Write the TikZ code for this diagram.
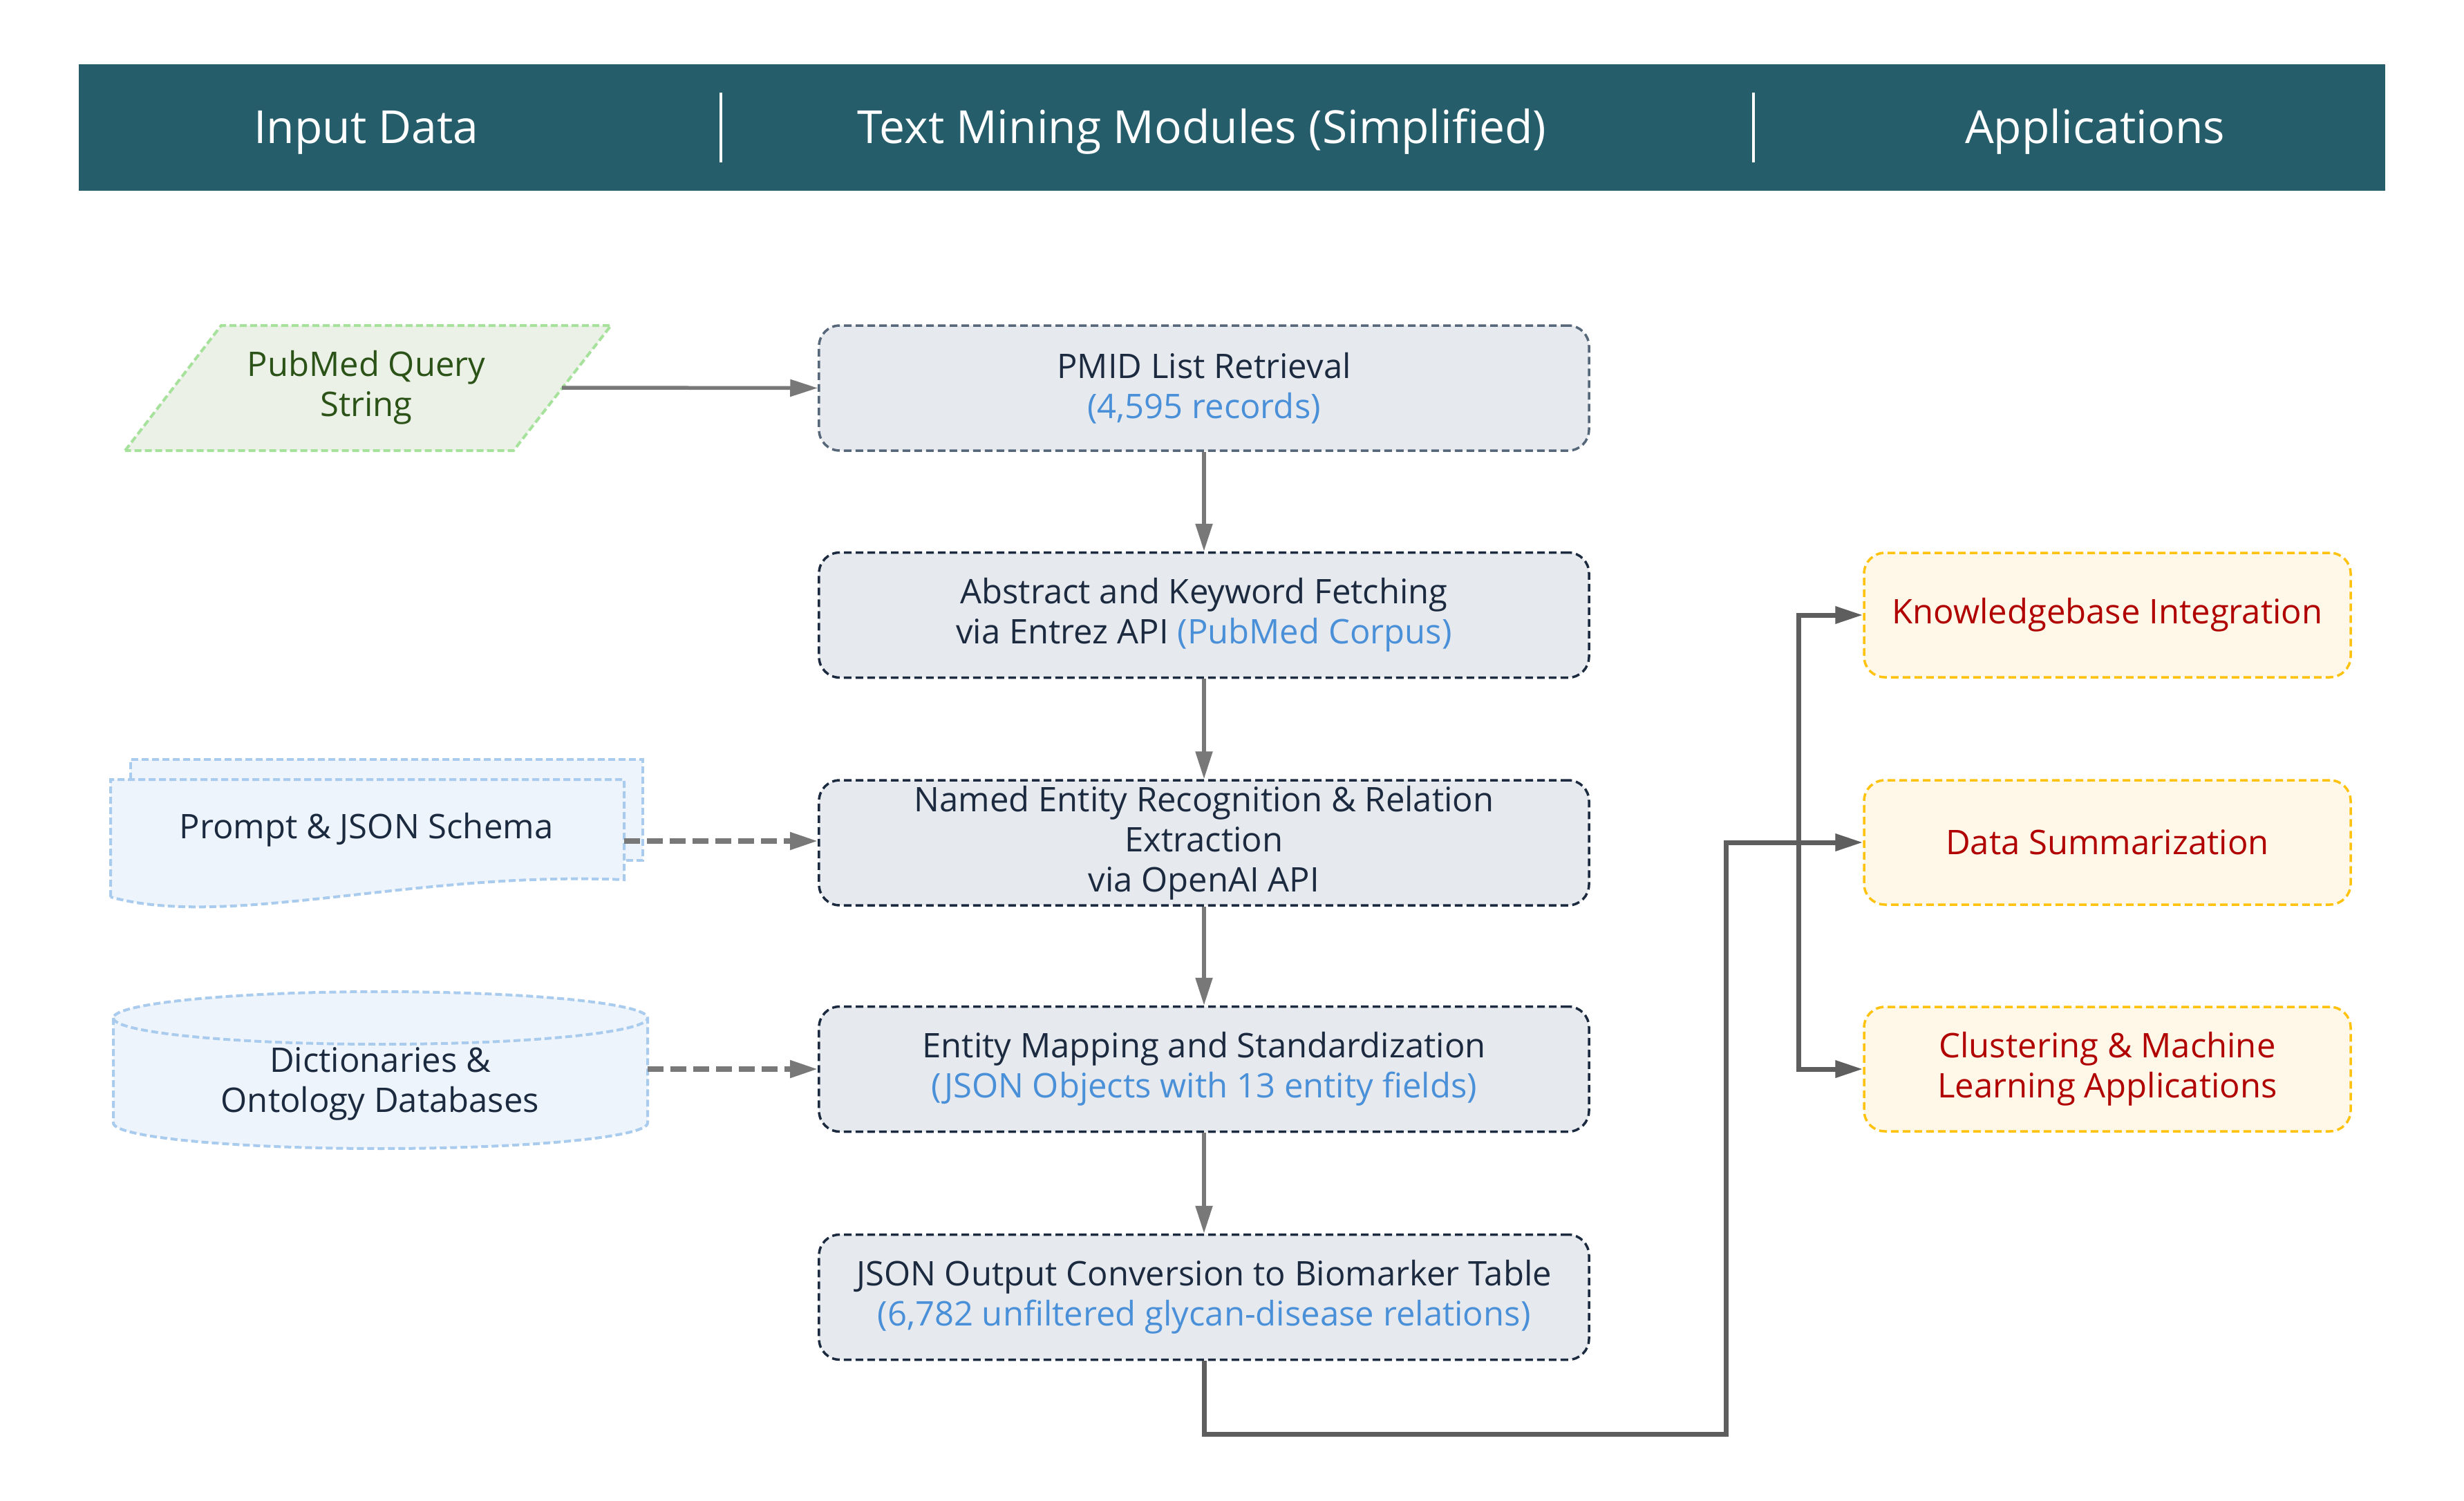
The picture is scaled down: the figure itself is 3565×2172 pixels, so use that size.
\documentclass[tikz,border=0pt]{standalone}
\usepackage{fontspec}
\setmainfont{Open Sans}
\usetikzlibrary{arrows.meta}

\definecolor{headteal}{HTML}{265D6A}
\definecolor{navy}{HTML}{1C2A40}
\definecolor{slate}{HTML}{56677A}
\definecolor{boxgrey}{HTML}{E6E9ED}
\definecolor{hiblue}{HTML}{4A90D9}
\definecolor{appgold}{HTML}{FFC20E}
\definecolor{appcream}{HTML}{FFF7E7}
\definecolor{appred}{HTML}{B00000}
\definecolor{querygreen}{HTML}{A6E29C}
\definecolor{queryfill}{HTML}{EBF1E7}
\definecolor{querytext}{HTML}{2B5318}
\definecolor{docblue}{HTML}{A8CBEE}
\definecolor{docfill}{HTML}{EEF4FB}
\definecolor{flowgrey}{HTML}{787878}
\definecolor{routegrey}{HTML}{5E5E5E}

\begin{document}
\begin{tikzpicture}[
        x = 0.2pt, y = -0.2pt,
        >={Triangle[length=8pt,width=4.8pt]},
        body/.style = {font = \fontsize{9.8}{11.6}\selectfont},
        module/.style = {
            draw = navy, fill = boxgrey,
            rounded corners = 6pt,
            line width = 0.7pt,
            dash pattern = on 2.2pt off 1.2pt,
            minimum width = 222.8pt,
            minimum height = 36.2pt,
            inner sep = 0pt,
            text = navy,
            align = center,
            body,
        },
        app/.style = {
            module,
            draw = appgold, fill = appcream,
            text = appred,
            minimum width = 140.8pt,
            minimum height = 36pt,
        },
        headtxt/.style = {text = white, font = \fontsize{13.2}{15}\selectfont},
        inshape/.style = {line width = 0.8pt, dash pattern = on 2pt off 1pt},
        flow/.style = {->, draw = flowgrey, line width = 1.1pt},
        feed/.style = {->, draw = flowgrey, line width = 1.5pt,
                       dash pattern = on 4.6pt off 2pt},
        route/.style = {->, draw = routegrey, line width = 1.4pt},
    ]
    \useasboundingbox (0,0) rectangle (3565,2172);

    % header band
    \node[fill=headteal, minimum width=667.4pt, minimum height=36.6pt, inner sep=0pt]
        (band) at (1782.5,184.5) {};
    \draw[white, line width=0.9pt] (1043,134) -- (1043,235);
    \draw[white, line width=0.9pt] (2537,134) -- (2537,235);
    \node[headtxt, anchor=base] (hin)  at (530,207)  {Input Data};
    \node[headtxt, anchor=base] (hmod) at (1739,207) {Text Mining Modules (Simplified)};
    \node[headtxt, anchor=base] (happ) at (3031,207) {Applications};

    % input data
    \draw[inshape, draw=querygreen, fill=queryfill]
        (181,652) -- (320,471) -- (884,471) -- (743,652) -- cycle;
    \node[body, text=querytext, align=center] (query) at (530,561) {PubMed Query\\String};
    \coordinate (queryout) at (813,561);

    \draw[inshape, draw=docblue, fill=docfill]
        (189,1128) -- (189,1099) -- (930,1099) -- (930,1245) -- (903,1245);
    \draw[inshape, draw=docblue, fill=docfill]
        (160,1298) -- (160,1128) -- (903,1128) -- (903,1273)
        .. controls (600,1260) and (330,1345) .. (160,1298) -- cycle;
    \node[body, text=navy] (prompt) at (530,1201) {Prompt \& JSON Schema};
    \coordinate (promptout) at (903,1217);

    \draw[inshape, draw=docblue, fill=docfill]
        (164,1473) -- (164,1625)
        arc[start angle=180, end angle=0, x radius=386.5, y radius=37]
        -- (937,1473)
        arc[start angle=0, end angle=-180, x radius=386.5, y radius=38] -- cycle;
    \draw[inshape, draw=docblue]
        (164,1473) arc[start angle=180, end angle=0, x radius=386.5, y radius=38];
    \node[body, text=navy, align=center] (dict) at (550,1568)
        {Dictionaries \&\\Ontology Databases};
    \coordinate (dictout) at (937,1547);

    % text mining modules
    \node[module, draw=slate] (pmid) at (1742,561.5)
        {PMID List Retrieval\\\textcolor{hiblue}{(4,595 records)}};
    \node[module] (fetch) at (1742,890)
        {Abstract and Keyword Fetching\\via Entrez API \textcolor{hiblue}{(PubMed Corpus)}};
    \node[module] (ner) at (1742,1219.5)
        {Named Entity Recognition \& Relation\\Extraction\\via OpenAI API};
    \node[module] (mapping) at (1742,1547)
        {Entity Mapping and Standardization\\\textcolor{hiblue}{(JSON Objects with 13 entity fields)}};
    \node[module] (table) at (1742,1877)
        {JSON Output Conversion to Biomarker Table\\\textcolor{hiblue}{(6,782 unfiltered glycan-disease relations)}};

    % applications
    \node[app] (kb)    at (3049,890)  {Knowledgebase Integration};
    \node[app] (summ)  at (3049,1219) {Data Summarization};
    \node[app] (clust) at (3049,1547) {Clustering \& Machine\\Learning Applications};

    % connectors
    \draw[flow] (queryout) -- (pmid.west);
    \draw[flow] (pmid) -- (fetch);
    \draw[flow] (fetch) -- (ner);
    \draw[flow] (ner) -- (mapping);
    \draw[flow] (mapping) -- (table);

    \draw[feed] (promptout) -- (promptout -| ner.west);
    \draw[feed] (dictout) -- (dictout -| mapping.west);

    \coordinate (turn)  at (1742,2075);
    \coordinate (riser) at (2497,1219);
    \coordinate (bus)   at (2602,1219);
    \draw[route] (table.south) -- (turn) -| (riser) -- (summ.west);
    \draw[route] (bus) |- (kb.west);
    \draw[route] (bus) |- (clust.west);
\end{tikzpicture}
\end{document}
